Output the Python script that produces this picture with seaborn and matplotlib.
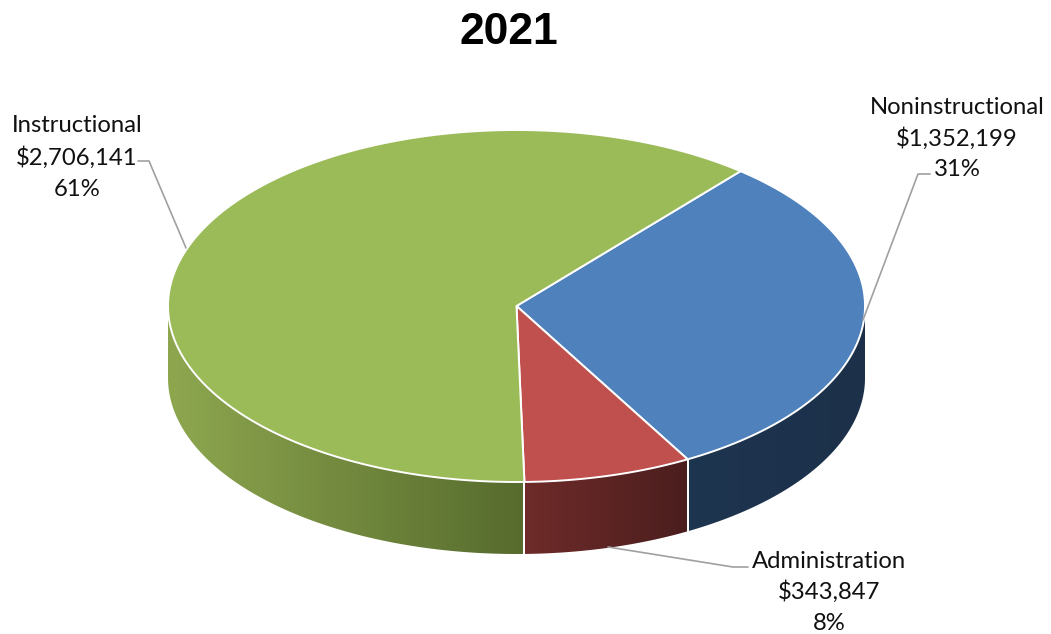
import numpy as np
import matplotlib
matplotlib.use("Agg")
import matplotlib.pyplot as plt
from matplotlib.patches import Polygon
import seaborn as sns

# Spending by category, clockwise from the start angle
categories = ["Noninstructional", "Administration", "Instructional"]
amounts = [1352199, 343847, 2706141]

top_colors = ["#4f81bd", "#c0504d", "#9bbb59"]
# Wall shading, left colour then right colour
side_ramps = [("#1e3550", "#1c3049"), ("#6e2b29", "#4b1e1e"), ("#8ea74f", "#566b2d")]

sns.set_theme(style="white")
plt.rcParams["font.family"] = ["Lato", "DejaVu Sans"]

W, H = 1051, 634
CX, CY, RX, RY, DEPTH = 516.5, 306.0, 348.5, 176.0, 72.0
START_DEG = 40.0  # clockwise from twelve o'clock


def rim(theta):
    """Pixel position of a clockwise-from-top angle (radians) on the top ellipse."""
    return CX + RX * np.sin(theta), CY - RY * np.cos(theta)


fig = plt.figure(figsize=(W / 100, H / 100), dpi=100)
ax = fig.add_axes([0, 0, 1, 1])
ax.axis("off")

shares = np.array(amounts) / np.sum(amounts)
edges = np.radians(START_DEG) + np.concatenate([[0], np.cumsum(shares)]) * 2 * np.pi

# Outer wall: only the front half of the rim (pi/2 .. 3pi/2) is visible
for i in range(len(amounts)):
    lo, hi = max(edges[i], np.pi / 2), min(edges[i + 1], 3 * np.pi / 2)
    if hi <= lo:
        continue
    x, y = rim(np.linspace(lo, hi, 200))
    wall = Polygon(np.c_[np.r_[x, x[::-1]], np.r_[y, y[::-1] + DEPTH]], closed=True,
                   facecolor="none", edgecolor="none", transform=ax.transData)
    ax.add_patch(wall)
    cmap = sns.blend_palette(side_ramps[i], 256, as_cmap=True)
    img = ax.imshow(np.linspace(0, 1, 256)[None, :], cmap=cmap, aspect="auto", zorder=2,
                    extent=(x.min(), x.max(), y.max() + DEPTH, y.min()))
    img.set_clip_path(wall)
    # white seam at the slice boundary
    for b in (edges[i], edges[i + 1]):
        if np.pi / 2 < b < 3 * np.pi / 2:
            sx, sy = rim(np.array([b]))
            ax.plot([sx[0], sx[0]], [sy[0], sy[0] + DEPTH], color="white", lw=1.4, zorder=3)

# Top face
for i in range(len(amounts)):
    t = np.linspace(edges[i], edges[i + 1], 240)
    x, y = rim(t)
    ax.fill(np.r_[CX, x], np.r_[CY, y], facecolor=top_colors[i], edgecolor="white",
            lw=1.4, joinstyle="round", zorder=4)

# Leader lines
leader = dict(color="#a0a0a0", lw=1.2, zorder=5)
ax.plot([138, 149, 186], [161, 161, 248], **leader)
ax.plot([930, 918, 863], [174, 174, 320], **leader)
ax.plot([748, 733, 608], [567, 567, 547], **leader)

# Data labels
label_pos = [(957, [107, 139, 170]), (829, [561, 592, 623]), (77, [126, 158, 189])]
for name, amount, share, (lx, ys) in zip(categories, amounts, shares, label_pos):
    lines = [name, f"${amount:,}", f"{share * 100:.0f}%"]
    for line, ly in zip(lines, ys):
        ax.text(lx, ly, line, ha="center", va="center", fontsize=17.2, color="#111111", zorder=6)

ax.text(509, 33, "2021", ha="center", va="center", fontsize=32, fontweight="bold",
        family="Liberation Sans", color="black")

ax.set_xlim(0, W)
ax.set_ylim(H, 0)
fig.savefig("out.png", dpi=100, facecolor="white")
